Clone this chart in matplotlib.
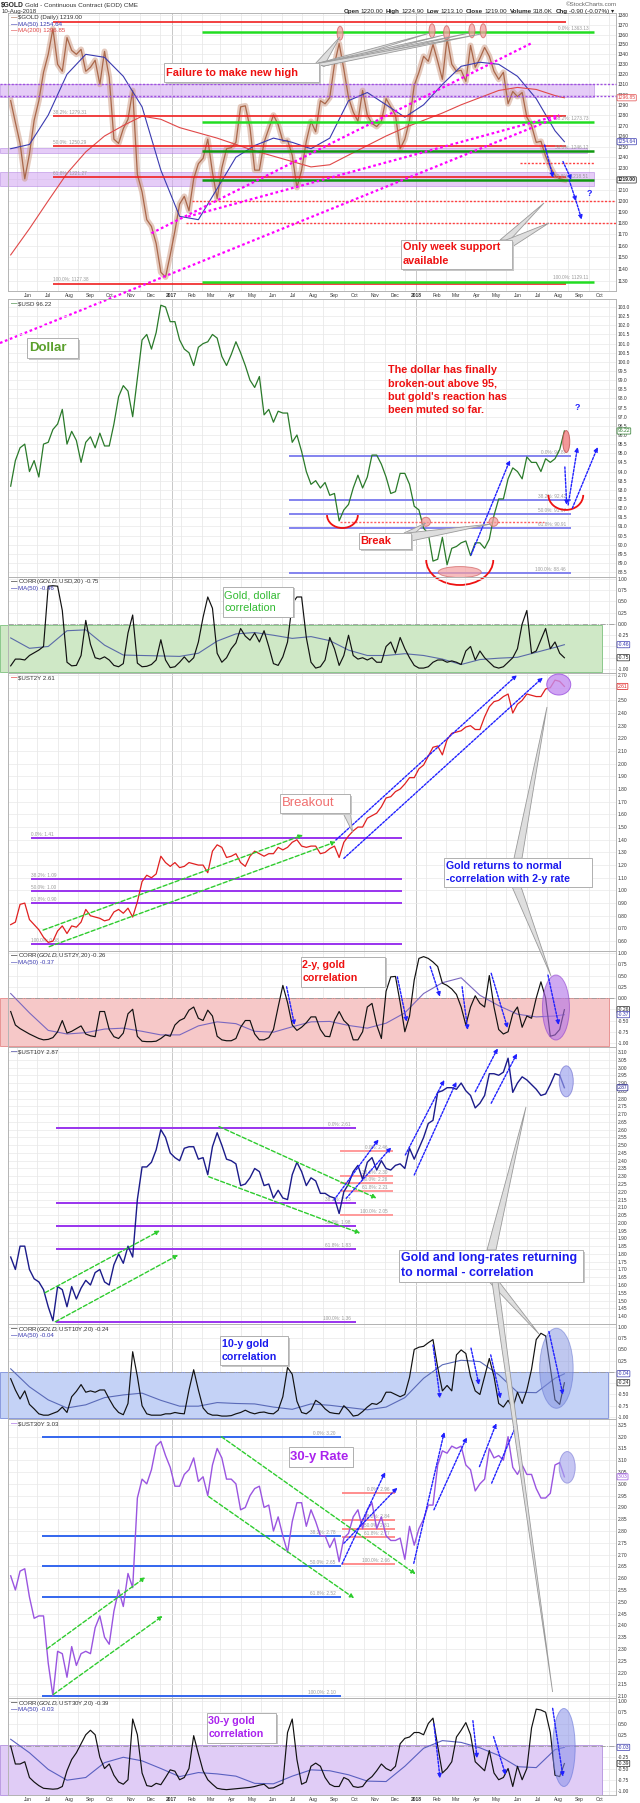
import numpy as np
import pandas as pd
import matplotlib
matplotlib.use('Agg')
import matplotlib.pyplot as plt
import matplotlib.dates as mdates
from matplotlib import transforms, font_manager
from matplotlib.patches import Rectangle, Ellipse, Arc, Polygon, FancyArrowPatch
from matplotlib.ticker import FixedLocator, FuncFormatter, NullLocator

names = {f.name for f in font_manager.fontManager.ttflist}
BASE = 'Liberation Sans' if 'Liberation Sans' in names else 'DejaVu Sans'
NARROW = 'Liberation Sans Narrow' if 'Liberation Sans Narrow' in names else BASE
plt.rcParams['font.family'] = [BASE, 'DejaVu Sans']

# ---------------- data: weekly values, Fri 6-May-2016 .. Fri 10-Aug-2018 ----------------
first_week = '2016-05-06'

gold = [1294, 1273, 1253, 1220, 1243, 1275, 1294, 1322, 1340, 1366,
        1330, 1323, 1357, 1344, 1340, 1345, 1323, 1327, 1334, 1310,
        1343, 1317, 1257, 1253, 1267, 1276, 1304, 1224, 1208, 1183,
        1177, 1162, 1137, 1133, 1152, 1173, 1197, 1204, 1191, 1220,
        1234, 1239, 1257, 1226, 1202, 1230, 1248, 1249, 1254, 1288,
        1289, 1268, 1228, 1228, 1254, 1267, 1280, 1271, 1255, 1256,
        1242, 1212, 1228, 1255, 1274, 1264, 1294, 1291, 1297, 1330,
        1351, 1325, 1297, 1283, 1274, 1304, 1280, 1272, 1269, 1274,
        1296, 1288, 1280, 1248, 1257, 1275, 1309, 1322, 1338, 1333,
        1350, 1333, 1315, 1356, 1330, 1323, 1324, 1313, 1349, 1327,
        1336, 1347, 1338, 1323, 1315, 1322, 1291, 1303, 1298, 1302,
        1278, 1270, 1254, 1255, 1241, 1231, 1223, 1220, 1219]

usd = [93.2, 94.6, 95.3, 95.5, 94.0, 94.6, 93.7, 95.5, 95.6, 96.3,
       96.6, 97.4, 95.5, 96.2, 95.7, 94.5, 95.6, 95.9, 95.3, 96.1,
       95.4, 95.4, 96.6, 98.1, 98.7, 98.4, 97.0, 99.1, 101.2, 101.5,
       100.7, 101.6, 103.1, 103.0, 102.2, 102.2, 101.2, 100.7, 100.5, 99.8,
       100.8, 101.0, 101.1, 101.5, 101.3, 100.3, 99.8, 100.4, 101.1, 100.5,
       99.8, 99.0, 98.6, 99.2, 97.1, 97.4, 96.7, 97.3, 97.2, 97.2,
       95.6, 96.0, 95.1, 94.0, 93.3, 93.5, 93.1, 93.4, 92.7, 92.8,
       91.3, 91.9, 92.2, 93.1, 93.8, 93.1, 93.7, 94.9, 94.9, 94.4,
       93.7, 92.8, 92.9, 93.9, 93.9, 93.3, 92.1, 91.9, 90.9, 90.6,
       89.1, 89.2, 90.4, 88.9, 89.8, 89.9, 90.1, 90.2, 89.4, 90.1,
       90.1, 89.8, 90.3, 91.6, 92.5, 92.5, 93.6, 94.2, 94.0, 93.6,
       94.8, 94.5, 94.5, 94.0, 94.7, 94.5, 94.7, 95.2, 96.22]

ust2y = [0.73, 0.75, 0.89, 0.90, 0.77, 0.73, 0.69, 0.63, 0.59, 0.60,
         0.68, 0.72, 0.66, 0.72, 0.71, 0.75, 0.85, 0.80, 0.79, 0.78,
         0.76, 0.77, 0.83, 0.85, 0.82, 0.86, 0.79, 0.91, 1.07, 1.12,
         1.10, 1.13, 1.27, 1.22, 1.19, 1.22, 1.18, 1.19, 1.22, 1.21,
         1.20, 1.20, 1.14, 1.31, 1.36, 1.34, 1.26, 1.27, 1.29, 1.22,
         1.19, 1.27, 1.31, 1.29, 1.27, 1.29, 1.29, 1.34, 1.32, 1.34,
         1.38, 1.40, 1.35, 1.34, 1.35, 1.35, 1.29, 1.30, 1.33, 1.35,
         1.26, 1.38, 1.43, 1.47, 1.50, 1.50, 1.57, 1.59, 1.61, 1.66,
         1.73, 1.74, 1.78, 1.80, 1.84, 1.89, 1.89, 1.96, 1.99, 2.06,
         2.13, 2.14, 2.07, 2.19, 2.24, 2.25, 2.26, 2.29, 2.30, 2.27,
         2.27, 2.37, 2.45, 2.49, 2.50, 2.53, 2.55, 2.40, 2.47, 2.50,
         2.55, 2.54, 2.53, 2.53, 2.59, 2.60, 2.66, 2.65, 2.61]

ust10y = [1.78, 1.70, 1.85, 1.85, 1.70, 1.64, 1.62, 1.57, 1.46, 1.37,
          1.59, 1.57, 1.46, 1.59, 1.51, 1.58, 1.63, 1.60, 1.68, 1.70,
          1.62, 1.60, 1.73, 1.80, 1.74, 1.85, 1.78, 2.15, 2.36, 2.36,
          2.39, 2.47, 2.60, 2.55, 2.45, 2.42, 2.40, 2.48, 2.49, 2.49,
          2.41, 2.42, 2.31, 2.49, 2.58, 2.50, 2.41, 2.40, 2.38, 2.24,
          2.25, 2.29, 2.35, 2.33, 2.24, 2.25, 2.16, 2.21, 2.16, 2.15,
          2.31, 2.39, 2.33, 2.24, 2.29, 2.27, 2.19, 2.19, 2.17, 2.16,
          2.06, 2.20, 2.25, 2.33, 2.37, 2.28, 2.39, 2.42, 2.34, 2.40,
          2.35, 2.34, 2.37, 2.38, 2.35, 2.48, 2.41, 2.48, 2.55, 2.64,
          2.66, 2.84, 2.85, 2.87, 2.87, 2.86, 2.90, 2.85, 2.82, 2.74,
          2.77, 2.82, 2.96, 2.96, 2.95, 2.97, 3.06, 2.84, 2.90, 2.94,
          2.92, 2.89, 2.86, 2.82, 2.83, 2.89, 2.96, 2.95, 2.87]

ust30y = [2.61, 2.55, 2.63, 2.64, 2.52, 2.43, 2.44, 2.44, 2.24, 2.10,
          2.29, 2.28, 2.18, 2.31, 2.23, 2.28, 2.29, 2.28, 2.39, 2.44,
          2.35, 2.32, 2.46, 2.55, 2.48, 2.62, 2.56, 2.94, 3.02, 3.00,
          3.06, 3.16, 3.18, 3.12, 3.07, 2.99, 2.99, 3.04, 3.06, 3.11,
          3.01, 3.03, 2.95, 3.08, 3.15, 3.11, 3.02, 3.02, 3.00, 2.89,
          2.90, 2.95, 2.98, 2.99, 2.90, 2.91, 2.80, 2.86, 2.78, 2.71,
          2.84, 2.92, 2.92, 2.82, 2.89, 2.84, 2.78, 2.78, 2.73, 2.77,
          2.67, 2.77, 2.79, 2.86, 2.89, 2.81, 2.89, 2.92, 2.81, 2.86,
          2.78, 2.76, 2.76, 2.77, 2.68, 2.82, 2.74, 2.81, 2.85, 2.91,
          2.91, 3.08, 3.14, 3.13, 3.16, 3.15, 3.16, 3.08, 3.06, 2.97,
          3.00, 3.02, 3.15, 3.11, 3.12, 3.10, 3.20, 3.07, 3.04, 3.08,
          3.04, 3.04, 2.98, 2.94, 2.94, 2.96, 3.08, 3.09, 3.03]

corr_usd = [-0.93, -0.78, -0.78, -0.80, -0.70, -0.64, -0.58, -0.50, 0.84, 0.85,
            0.84, 0.30, -0.85, -0.93, -0.92, -0.70, 0.08, -0.45, -0.75, -0.78,
            -0.73, -0.80, -0.92, -0.95, -0.88, -0.20, 0.20, -0.87, -0.95, -0.94,
            -0.90, -0.80, -0.35, -0.80, -0.97, -0.95, -0.85, -0.73, -0.85, -0.75,
            -0.40, 0.15, 0.60, 0.35, -0.65, -0.85, -0.75, -0.55, -0.42, -0.10,
            -0.27, -0.36, -0.20, -0.40, -0.15, -0.50, -0.88, -0.92, -0.73, -0.40,
            0.45, 0.60, 0.60, -0.30, -0.85, -0.98, -0.95, -0.80, -0.30, -0.55,
            -0.92, -0.70, -0.25, -0.70, -0.78, -0.75, -0.80, -0.75, -0.85, -0.85,
            -0.50, -0.40, -0.65, -0.30, -0.55, -0.75, -0.92, -0.98, -0.98, -0.95,
            -0.85, -0.80, -0.80, -0.85, -0.82, -0.85, -0.90, -0.60, -0.50, -0.80,
            -0.60, -0.75, -0.85, -0.95, -0.98, -0.95, -0.85, -0.75, -0.55, 0.00,
            0.30, -0.65, -0.60, -0.35, -0.10, -0.55, -0.40, -0.65, -0.75]

corr_2y = [-0.30, -0.60, -0.68, -0.74, -0.80, -0.85, -0.90, -0.93, -0.92, -0.88,
           -0.75, -0.50, -0.78, -0.74, -0.68, -0.62, -0.80, -0.84, -0.86, -0.30,
           -0.30, -0.70, -0.86, -0.90, -0.78, -0.35, -0.25, -0.85, -0.96, -0.97,
           -0.97, -0.96, -0.90, -0.82, -0.85, -0.60, -0.50, -0.45, -0.27, -0.20,
           -0.45, -0.50, -0.27, -0.40, -0.85, -0.93, -0.95, -0.95, -0.90, -0.65,
           -0.50, -0.50, -0.80, -0.93, -0.93, -0.88, -0.70, -0.20, 0.28, -0.10,
           -0.60, -0.72, -0.65, -0.55, -0.42, -0.42, -0.70, -0.85, -0.86, -0.50,
           -0.30, -0.50, -0.60, -0.93, -0.93, -0.75, -0.20, -0.12, -0.60, -0.90,
           0.15, 0.47, 0.48, -0.10, -0.75, -0.40, 0.40, 0.88, 0.92, 0.88,
           0.80, 0.70, 0.33, 0.28, 0.20, 0.08, -0.20, -0.60, -0.20, 0.05,
           -0.12, -0.20, 0.50, -0.20, -0.70, -0.80, -0.75, -0.35, -0.20, -0.65,
           -0.40, -0.45, 0.00, 0.36, 0.00, -0.85, -0.82, -0.70, -0.26]

corr_10y = [-0.15, -0.40, -0.60, -0.42, -0.72, -0.82, -0.93, -0.96, -0.96, -0.92,
            -0.88, -0.78, -0.90, -0.55, -0.43, -0.28, -0.45, -0.42, -0.45, -0.40,
            -0.40, -0.60, -0.78, -0.90, -0.95, -0.70, 0.45, -0.10, -0.75, -0.93,
            -0.96, -0.96, -0.96, -0.93, -0.93, -0.90, -0.92, -0.93, -0.40, 0.05,
            -0.40, -0.80, -0.92, -0.96, -0.96, -0.98, -0.98, -0.97, -0.93, -0.90,
            -0.85, -0.90, -0.93, -0.90, -0.89, -0.92, -0.93, -0.85, -0.55, 0.10,
            -0.05, -0.65, -0.90, -0.93, -0.85, -0.63, -0.70, -0.82, -0.90, -0.92,
            -0.93, -0.75, -0.85, -0.98, -0.96, -0.88, -0.78, -0.70, -0.72, -0.65,
            -0.45, -0.45, -0.50, -0.55, -0.50, -0.12, 0.50, 0.55, 0.57, 0.65,
            0.72, 0.10, -0.42, -0.30, -0.42, 0.38, 0.49, 0.41, -0.10, -0.42,
            -0.50, -0.10, 0.30, -0.10, -0.70, -0.78, -0.63, -0.80, -0.45, -0.70,
            -0.40, 0.06, 0.72, 0.86, 0.80, 0.10, -0.62, -0.72, -0.24]

corr_30y = [0.00, -0.40, -0.40, -0.35, -0.70, -0.80, -0.88, -0.94, -0.95, -0.96,
            -0.95, -0.90, -0.55, -0.30, -0.15, 0.05, 0.25, 0.35, 0.25, -0.25,
            -0.50, -0.40, -0.65, -0.80, -0.85, -0.75, 0.60, 0.25, -0.60, -0.88,
            -0.90, -0.83, -0.86, -0.70, -0.53, -0.56, -0.75, -0.70, -0.50, 0.23,
            -0.17, -0.55, -0.75, -0.85, -0.94, -0.96, -0.97, -0.96, -0.95, -0.94,
            -0.93, -0.92, -0.90, -0.87, -0.85, -0.94, -0.93, -0.88, -0.83, 0.30,
            0.60, -0.30, -0.85, -0.80, -0.45, -0.38, -0.45, -0.70, -0.85, -0.90,
            -0.90, -0.70, -0.75, -0.90, -0.92, -0.90, -0.76, -0.68, -0.55, -0.40,
            -0.50, -0.55, -0.45, 0.05, 0.17, 0.20, 0.30, 0.30, 0.25, 0.50,
            0.62, 0.00, -0.60, -0.50, -0.35, 0.20, 0.35, 0.52, 0.25, -0.35,
            -0.45, -0.55, -0.10, -0.60, -0.75, -0.70, -0.50, -0.90, -0.45, -0.75,
            -0.50, 0.40, 0.82, 0.80, 0.75, 0.30, -0.65, -0.68, -0.39]

# moving averages, sampled every 4th week (plus the last week)
ma_idx = list(range(0, 117, 4)) + [118]
gold_ma50 = [1248, 1252, 1280, 1320, 1340, 1337, 1318, 1288, 1228, 1186, 1183, 1211, 1240, 1251, 1258,
             1254, 1248, 1258, 1294, 1302, 1290, 1278, 1290, 1310, 1328, 1332, 1330, 1318, 1296, 1265, 1254.64]
gold_ma200 = [1152, 1175, 1200, 1225, 1245, 1260, 1270, 1279, 1276, 1268, 1263, 1258, 1252, 1246, 1241,
              1236, 1231, 1233, 1242, 1251, 1260, 1268, 1275, 1282, 1290, 1297, 1304, 1307, 1305, 1299, 1296.85]
corr_usd_ma = [-0.31, -0.54, -0.50, -0.15, -0.13, -0.47, -0.69, -0.70, -0.71, -0.72, -0.65, -0.38, -0.22, -0.19, -0.25,
               -0.32, -0.28, -0.37, -0.58, -0.70, -0.70, -0.66, -0.70, -0.78, -0.90, -0.79, -0.76, -0.74, -0.63, -0.52, -0.46]
corr_2y_ma = [0.10, -0.33, -0.72, -0.80, -0.77, -0.69, -0.67, -0.74, -0.82, -0.82, -0.62, -0.53, -0.57, -0.74, -0.76,
              -0.64, -0.53, -0.52, -0.61, -0.67, -0.56, -0.33, 0.10, 0.34, 0.45, 0.06, -0.17, -0.36, -0.42, -0.40, -0.37]
corr_10y_ma = [0.07, -0.33, -0.62, -0.80, -0.73, -0.57, -0.51, -0.47, -0.63, -0.76, -0.76, -0.68, -0.70, -0.71, -0.78,
               -0.83, -0.71, -0.74, -0.79, -0.84, -0.78, -0.57, -0.14, 0.16, 0.26, 0.23, -0.06, -0.45, -0.46, -0.14, -0.04]
corr_30y_ma = [0.15, -0.15, -0.52, -0.76, -0.70, -0.37, -0.25, -0.33, -0.50, -0.68, -0.59, -0.62, -0.67, -0.83, -0.84,
               -0.67, -0.53, -0.55, -0.64, -0.78, -0.79, -0.45, -0.05, 0.12, 0.08, -0.04, -0.21, -0.46, -0.48, -0.08, -0.03]

# fibonacci levels
gold_fib_red = [1373.18, 1279.31, 1250.29, 1221.27, 1127.38]
gold_fib_red_lab = ['', '38.2%: 1279.31', '50.0%: 1250.29', '61.8%: 1221.27', '100.0%: 1127.38']
gold_fib_green = [1363.13, 1273.73, 1246.12, 1218.51, 1129.11]
gold_fib_green_lab = ['0.0%: 1363.13', '38.2%: 1273.73', '50.0%: 1246.12', '61.8%: 1218.51', '100.0%: 1129.11']
usd_fib = [94.87, 92.42, 91.67, 90.91, 88.46]
usd_fib_lab = ['0.0%: 94.87', '38.2%: 92.42', '50.0%: 91.67', '61.8%: 90.91', '100.0%: 88.46']
y2_fib = [1.41, 1.093, 0.995, 0.897, 0.58]
y2_fib_lab = ['0.0%: 1.41', '38.2%: 1.09', '50.0%: 1.00', '61.8%: 0.90', '100.0%: 0.58']
y10_fib = [2.61, 2.13, 1.98, 1.83, 1.36]
y10_fib_lab = ['0.0%: 2.61', '38.2%: 2.13', '50.0%: 1.98', '61.8%: 1.83', '100.0%: 1.36']
y10_fib2 = [2.46, 2.303, 2.255, 2.207, 2.05]
y10_fib2_lab = ['0.0%: 2.46', '38.2%: 2.30', '50.0%: 2.26', '61.8%: 2.21', '100.0%: 2.05']
y30_fib = [3.20, 2.78, 2.65, 2.52, 2.10]
y30_fib_lab = ['0.0%: 3.20', '38.2%: 2.78', '50.0%: 2.65', '61.8%: 2.52', '100.0%: 2.10']
y30_fib2 = [2.96, 2.845, 2.81, 2.775, 2.66]
y30_fib2_lab = ['0.0%: 2.96', '38.2%: 2.84', '50.0%: 2.81', '61.8%: 2.77', '100.0%: 2.66']

# ---------------- figure ----------------
W, H = 640, 1803
fig = plt.figure(figsize=(W / 100, H / 100), dpi=100)
fig.patch.set_facecolor('white')
renderer = fig.canvas.get_renderer()

t0 = mdates.datestr2num(first_week)
xw = t0 + 7 * np.arange(len(gold))
xm = xw[ma_idx]


def wk(i):
    return t0 + 7 * i


XL = (mdates.datestr2num('2016-05-02'), mdates.datestr2num('2018-10-26'))
months = pd.date_range('2016-06-01', '2018-10-01', freq='MS')
mon_x = mdates.date2num(months.to_pydatetime())
mon_lab = [str(m.year) if m.month == 1 else m.strftime('%b') for m in months]
mid_x = mdates.date2num((pd.date_range('2016-05-01', '2018-10-01', freq='MS')
                         + pd.Timedelta(days=14)).to_pydatetime())
year_x = [mdates.datestr2num('2017-01-01'), mdates.datestr2num('2018-01-01')]
corr_ticks = np.arange(-1, 1.01, 0.25)


def panel(top, bot, ylim, ticks, fmt, xlabels=False, log=False):
    ax = fig.add_axes([8 / W, 1 - bot / H, 608 / W, (bot - top) / H])
    ax.set_facecolor('none')
    if log:
        ax.set_yscale('log')
    ax.set_xlim(*XL)
    ax.set_ylim(*ylim)
    ax.yaxis.set_major_locator(FixedLocator(ticks))
    ax.yaxis.set_major_formatter(FuncFormatter(lambda v, p: fmt % v))
    ax.yaxis.set_minor_locator(NullLocator())
    ax.yaxis.tick_right()
    ax.set_xticks(mon_x)
    ax.set_xticks(mid_x, minor=True)
    ax.set_xticklabels(mon_lab)
    ax.tick_params(axis='both', which='both', length=0, labelsize=3.5, colors='#333333', pad=1.5)
    ax.tick_params(axis='x', labelbottom=xlabels)
    if xlabels:
        for t, s in zip(ax.get_xticklabels(), mon_lab):
            if s.isdigit():
                t.set_fontweight('bold')
    ax.set_axisbelow(True)
    ax.grid(True, which='minor', axis='x', color='#e4e4e4', lw=0.5)
    ax.grid(True, which='major', axis='y', color='#e9e9e9', lw=0.5)
    for yx in year_x:
        ax.axvline(yx, color='#c8c8c8', lw=0.7, zorder=0.5)
    for s in ax.spines.values():
        s.set_color('#b4b4b4')
        s.set_linewidth(0.7)
    return ax


def head(ax, items):
    for k, (s, c, tc) in enumerate(items):
        y = -(5 + 6.3 * k) * 0.72
        ax.annotate('—', xy=(0, 1), xycoords='axes fraction', xytext=(2, y), textcoords='offset points',
                    va='center', ha='left', fontsize=4.6, color=c, fontweight='bold')
        ax.annotate(s, xy=(0, 1), xycoords='axes fraction', xytext=(7.5, y), textcoords='offset points',
                    va='center', ha='left', fontsize=4.4, color=tc)


def tag(ax, v, s, ec, bold=False):
    ax.annotate(s, xy=(1, v), xycoords=('axes fraction', 'data'), xytext=(1.2, 0), textcoords='offset points',
                ha='left', va='center', fontsize=3.6, color=ec, fontweight='bold' if bold else 'normal',
                bbox=dict(boxstyle='round,pad=0.12', fc='white', ec=ec, lw=0.5), annotation_clip=False, zorder=8)


def fib(ax, i0, i1, levels, labels, color, lw=1.3, side='right', colors=None):
    for k, (lv, lb) in enumerate(zip(levels, labels)):
        c = colors[k] if colors else color
        ax.plot([wk(i0), wk(i1)], [lv, lv], color=c, lw=lw, zorder=3, solid_capstyle='butt')
        if lb:
            xx = wk(i1) if side == 'right' else wk(i0)
            dx = -4 if side == 'right' else 0
            ax.annotate(lb, (xx, lv), xytext=(dx, 0.8), textcoords='offset points', ha=side, va='bottom',
                        fontsize=3.4, color='#9a9a9a', zorder=3)


def arrow(ax, a, color='#2020ff', ls=(0, (1.6, 1.1)), lw=1.0):
    i0, v0, i1, v1 = a
    ax.add_patch(FancyArrowPatch((wk(i0), v0), (wk(i1), v1), arrowstyle='-|>', mutation_scale=6,
                                 color=color, lw=lw, ls=ls, shrinkA=0, shrinkB=0, clip_on=False, zorder=7))


def blob(ax, i, v, wpx, hpx, fc, ec, alpha=0.6):
    tr = fig.dpi_scale_trans + transforms.ScaledTranslation(wk(i), v, ax.transData)
    ax.add_patch(Ellipse((0, 0), wpx / 100, hpx / 100, transform=tr, fc=fc, ec=ec, lw=0.7,
                         alpha=alpha, clip_on=False, zorder=6))


def corr_panel(ax, vals, ma, i_right, top, bot, fc, ec, ma_color):
    ax.add_patch(Rectangle((wk(-2.3), bot), wk(i_right) - wk(-2.3), top - bot, fc=fc, ec=ec, lw=0.7,
                           clip_on=False, zorder=0.8))
    ax.axhline(0, color='#9a9a9a', lw=0.6, ls='-.', zorder=1)
    ax.plot(xm, ma, color=ma_color, lw=0.8, zorder=2)
    ax.plot(xw, vals, color='#111111', lw=0.85, zorder=2.2)


BLUE = '#2020ff'
GREEN = '#2ecc2e'
GLS = (0, (3, 1.6))

# ---- gold ----
ax_g = panel(13, 291, (1121.1, 1382.4), np.arange(1130, 1381, 10), '%.0f', True, log=True)
for lo, hi, right in [(1298, 1310, 124.3), (1244, 1249, 122.9), (1213, 1226, 124.3)]:
    ax_g.add_patch(Rectangle((wk(-2.3), lo), wk(right) - wk(-2.3), hi - lo, fc='#d4aaf2', ec='#b07ee0',
                             lw=0.6, alpha=0.6, clip_on=False, zorder=1))
for lv in (1310, 1299):
    ax_g.plot([wk(-2.3), wk(129.1)], [lv, lv], color='#a050e0', lw=1.0, ls=(0, (1.5, 1.2)), zorder=3, clip_on=False)
ax_g.plot(xw, gold, color='#d0a08a', lw=4.2, alpha=0.55, zorder=2)
ax_g.plot(xw, gold, color='#a9674a', lw=0.9, zorder=2.1)
ax_g.plot(xm, gold_ma50, color='#3a3ab0', lw=0.8, zorder=2.3)
ax_g.plot(xm, gold_ma200, color='#e04848', lw=0.8, zorder=2.3)
fib(ax_g, 9.1, 118.3, gold_fib_red, gold_fib_red_lab, '#f02020', lw=1.2, side='left')
fib(ax_g, 40.7, 124.3, gold_fib_green, gold_fib_green_lab, '#22dd22', lw=1.8,
    colors=['#22dd22', '#22dd22', '#119911', '#119911', '#22dd22'])
ax_g.plot([wk(108.5), wk(124.3)], [1235, 1235], color='#ff4040', lw=1.0, ls=(0, (1.5, 1.2)), zorder=3)
ax_g.plot([wk(38.7), wk(129.1)], [1200, 1200], color='#ff4040', lw=1.0, ls=(0, (1.5, 1.2)), zorder=3)
ax_g.plot([wk(37.4), wk(129.1)], [1180, 1180], color='#ff4040', lw=1.0, ls=(0, (1.5, 1.2)), zorder=3)
for a in [(30.0, 1171, 111.2, 1351.8), (37.8, 1185.8, 116.9, 1280), (-2.28, 1078, 116.9, 1278.5)]:
    ax_g.plot([wk(a[0]), wk(a[2])], [a[1], a[3]], color='#ff00ff', lw=1.6, ls=(0, (1.2, 1.2)),
              zorder=4, clip_on=False)
for i, v in [(70.2, 1361.5), (89.8, 1364), (92.9, 1362), (98.3, 1364), (100.7, 1364)]:
    blob(ax_g, i, v, 6, 14, '#f4a0a0', '#d06060', 0.75)
for a in [(113.8, 1251.5, 115.6, 1221), (117.7, 1236, 119.5, 1219),
          (119.0, 1219, 120.5, 1199.6), (120.5, 1199.6, 121.7, 1183)]:
    arrow(ax_g, a)
ax_g.text(wk(123.4), 1207, '?', color=BLUE, fontsize=6.5, fontweight='bold', ha='center', va='center')
head(ax_g, [('$GOLD (Daily) 1219.00', '#a9674a', '#333333'),
            ('MA(50) 1254.64', '#3a3ab0', '#3a3ab0'),
            ('MA(200) 1296.85', '#e04848', '#e04848')])
tag(ax_g, 1296.85, '1296.85', '#e04848')
tag(ax_g, 1254.64, '1254.64', '#3a3ab0')
tag(ax_g, 1219.00, '1219.00', '#222222', bold=True)

# ---- dollar ----
ax_u = panel(299, 577, (88.23, 103.44), np.arange(88.5, 103.01, 0.5), '%.1f')
fib(ax_u, 59.3, 119.5, usd_fib, usd_fib_lab, '#7a7aee', lw=1.3)
ax_u.plot([wk(70.2), wk(113.7)], [91.25, 91.25], color='#ff6060', lw=1.0, ls=(0, (1.5, 1.2)), zorder=3)
ax_u.plot(xw, usd, color='#2a7a2a', lw=0.9, zorder=4)
for c, wd, ht in [((70.7, 91.62), 46, 1.42), ((95.7, 89.16), 100, 2.735), ((118.3, 92.72), 52, 1.64)]:
    ax_u.add_patch(Arc((wk(c[0]), c[1]), wd, ht, theta1=180, theta2=360, color='#ee1111', lw=1.3,
                       clip_on=False, zorder=5))
blob(ax_u, 88.5, 91.25, 9, 9, '#f4a0a0', '#d06060', 0.75)
blob(ax_u, 102.9, 91.25, 9, 9, '#f4a0a0', '#d06060', 0.75)
blob(ax_u, 95.7, 88.5, 43, 11, '#f4a0a0', '#d06060', 0.7)
blob(ax_u, 118.4, 95.64, 7, 22, '#f08080', '#c05050', 0.8)
for a in [(98.1, 89.43, 106.4, 94.63), (118.1, 94.25, 118.5, 92.17),
          (118.8, 92.17, 120.8, 95.34), (119.7, 92.0, 125.1, 95.34)]:
    arrow(ax_u, a)
ax_u.text(wk(120.8), 97.5, '?', color=BLUE, fontsize=6.5, fontweight='bold', ha='center', va='center')
head(ax_u, [('$USD 96.22', '#2a7a2a', '#333333')])
tag(ax_u, 96.22, '96.22', '#2a7a2a')

# ---- corr gold / dollar ----
ax_c1 = panel(577, 673, (-1.089, 1.044), corr_ticks, '%.2f')
corr_panel(ax_c1, corr_usd, corr_usd_ma, 126.1, -0.02, -1.06, '#cfe8c6', '#8cc88c', '#5a6aa8')
head(ax_c1, [('CORR($GOLD,$USD,20) -0.75', '#111111', '#333333'), ('MA(50) -0.46', '#3a3ab0', '#3a3ab0')])
tag(ax_c1, -0.46, '-0.46', '#3a3ab0')
tag(ax_c1, -0.75, '-0.75', '#222222')

# ---- 2-year ----
ax_2 = panel(673, 951, (0.522, 2.716), np.arange(0.6, 2.701, 0.1), '%.2f')
fib(ax_2, 4.3, 83.4, y2_fib, y2_fib_lab, '#9933ee', lw=1.4, side='left')
ax_2.plot(xw, ust2y, color='#e02020', lw=0.9, zorder=4)
for a in [(6.9, 0.687, 62.3, 1.437), (8.2, 0.556, 69.3, 1.384)]:
    arrow(ax_2, a, GREEN, GLS)
for a in [(69.3, 1.398, 107.9, 2.70), (71.0, 1.253, 113.4, 2.68)]:
    arrow(ax_2, a)
blob(ax_2, 116.8, 2.625, 24, 21, '#c48df0', '#9b4fe0', 0.8)
head(ax_2, [('$UST2Y 2.61', '#e02020', '#333333')])
tag(ax_2, 2.61, '2.61', '#e02020')

# ---- corr gold / 2y ----
ax_c2 = panel(951, 1047, (-1.089, 1.045), corr_ticks, '%.2f')
corr_panel(ax_c2, corr_2y, corr_2y_ma, 127.6, 0.0, -1.07, '#f6c8c8', '#e89494', '#7a68c0')
for a in [(58.8, 0.25, 60.5, -0.60), (82.4, 0.47, 84.4, -0.53), (89.4, 0.70, 91.5, 0.03),
          (96.2, 0.25, 97.4, -0.71), (102.4, 0.55, 105.9, -0.67), (114.5, 0.51, 116.8, -0.60)]:
    arrow(ax_c2, a)
blob(ax_c2, 116.2, -0.211, 27, 65, '#b070e8', '#9040d0', 0.6)
head(ax_c2, [('CORR($GOLD,$UST2Y,20) -0.26', '#111111', '#333333'), ('MA(50) -0.37', '#3a3ab0', '#3a3ab0')])
tag(ax_c2, -0.26, '-0.26', '#222222')
tag(ax_c2, -0.37, '-0.37', '#3a3ab0')

# ---- 10-year ----
ax_10 = panel(1047, 1324, (1.349, 3.132), np.arange(1.40, 3.101, 0.05), '%.2f')
fib(ax_10, 9.7, 73.6, y10_fib, y10_fib_lab, '#9933ee', lw=1.4)
fib(ax_10, 70.2, 81.5, y10_fib2, y10_fib2_lab, '#ff9a9a', lw=1.4)
ax_10.plot(xw, ust10y, color='#1b1b8a', lw=1.0, zorder=4)
for a in [(44.4, 2.62, 78.0, 2.158), (42.2, 2.297, 74.5, 1.933), (7.3, 1.55, 31.8, 1.95), (9.5, 1.363, 35.7, 1.793)]:
    arrow(ax_10, a, GREEN, GLS)
for a in [(68.9, 2.147, 78.4, 2.538), (71.5, 2.158, 81.1, 2.486), (84.1, 2.437, 92.4, 2.92),
          (86.0, 2.308, 95.0, 2.909), (99.0, 2.844, 103.8, 3.124), (102.4, 2.77, 107.9, 3.09)]:
    arrow(ax_10, a)
blob(ax_10, 118.4, 2.911, 14, 31, '#9aa0ee', '#7070d0', 0.65)
head(ax_10, [('$UST10Y 2.87', '#1b1b8a', '#333333')])
tag(ax_10, 2.87, '2.87', '#1b1b8a')

# ---- corr gold / 10y ----
ax_c3 = panel(1324, 1419, (-1.045, 1.066), corr_ticks, '%.2f')
corr_panel(ax_c3, corr_10y, corr_10y_ma, 127.4, 0.0, -1.03, '#c4d2f6', '#8a9ade', '#5a6ab8')
for a in [(90.0, 0.60, 91.5, -0.59), (98.1, 0.53, 99.8, -0.29), (102.3, 0.38, 104.4, -0.59),
          (114.7, 0.90, 117.7, -0.51)]:
    arrow(ax_c3, a)
blob(ax_c3, 116.3, 0.082, 33.5, 80, '#8090e0', '#6070d0', 0.5)
head(ax_c3, [('CORR($GOLD,$UST10Y,20) -0.24', '#111111', '#333333'), ('MA(50) -0.04', '#3a3ab0', '#3a3ab0')])
tag(ax_c3, -0.04, '-0.04', '#3a3ab0')
tag(ax_c3, -0.24, '-0.24', '#222222')

# ---- 30-year ----
ax_30 = panel(1419, 1698, (2.092, 3.275), np.arange(2.10, 3.251, 0.05), '%.2f')
fib(ax_30, 6.7, 70.4, y30_fib, y30_fib_lab, '#3366ee', lw=1.4)
fib(ax_30, 70.6, 81.9, y30_fib2, y30_fib2_lab, '#ff7a7a', lw=1.2)
ax_30.plot(xw, ust30y, color='#9a55e0', lw=1.0, zorder=4)
for a in [(44.9, 3.20, 86.3, 2.617), (42.2, 2.946, 73.2, 2.515), (7.7, 2.30, 28.7, 2.604), (9.1, 2.107, 32.4, 2.44)]:
    arrow(ax_30, a, GREEN, GLS)
for a in [(70.6, 2.66, 79.8, 3.05), (71.0, 2.748, 82.4, 2.984), (85.9, 2.663, 92.4, 3.22),
          (90.2, 2.89, 97.2, 3.198), (99.9, 3.073, 103.5, 3.257), (102.5, 3.003, 107.9, 3.257)]:
    arrow(ax_30, a)
blob(ax_30, 118.6, 3.07, 16, 31.6, '#a8a8ee', '#8080d8', 0.65)
head(ax_30, [('$UST30Y 3.03', '#9a55e0', '#333333')])
tag(ax_30, 3.03, '3.03', '#9a55e0')

# ---- corr gold / 30y ----
ax_c4 = panel(1698, 1795, (-1.089, 1.067), corr_ticks, '%.2f', xlabels=True)
corr_panel(ax_c4, corr_30y, corr_30y_ma, 126.1, 0.02, -1.085, '#e0ccf6', '#bb9ce2', '#5a60c0')
for a in [(90.2, 0.489, 91.5, -0.718), (98.5, 0.563, 99.4, -0.274), (102.9, 0.207, 105.5, -0.644),
          (115.5, 0.837, 117.7, -0.681)]:
    arrow(ax_c4, a)
blob(ax_c4, 117.9, -0.033, 22.5, 78, '#8890e8', '#6070d8', 0.55)
head(ax_c4, [('CORR($GOLD,$UST30Y,20) -0.39', '#111111', '#333333'), ('MA(50) -0.03', '#3a3ab0', '#3a3ab0')])
tag(ax_c4, -0.03, '-0.03', '#3a3ab0')
tag(ax_c4, -0.39, '-0.39', '#222222')

# ---------------- overlay: header and call-outs (figure pixels) ----------------
ov = fig.add_axes([0, 0, 1, 1], zorder=20)
ov.set_xlim(0, W)
ov.set_ylim(H, 0)
ov.axis('off')


def wedge(b0, b1, tip):
    ov.add_patch(Polygon([b0, b1, tip], closed=True, fc='#dedede', ec='#9a9a9a', lw=0.6, zorder=1))


def box(x0, y0, x1, y1):
    ov.add_patch(Rectangle((x0 + 1.5, y0 + 1.5), x1 - x0, y1 - y0, fc='#c6c6c6', ec='none', zorder=2))
    ov.add_patch(Rectangle((x0, y0), x1 - x0, y1 - y0, fc='white', ec='#b0b0b0', lw=0.7, zorder=3))


def words(x, ys, lines, width, color, weight='bold'):
    ts = [ov.text(x, y, s, ha='left', va='center', fontsize=8, color=color, fontweight=weight,
                  family=[NARROW, 'DejaVu Sans'], zorder=4) for y, s in zip(ys, lines)]
    w = max(t.get_window_extent(renderer).width for t in ts)
    for t in ts:
        t.set_fontsize(8 * width / w)


RED = '#ee1111'
TBLUE = '#1a1aee'
PURP = '#aa22ee'

for tip in [(339.8, 37), (430, 33), (444, 35), (469.5, 33), (481, 34)]:
    wedge((315, 64), (324, 66), tip)
box(164, 63, 319, 82)
words(166.5, [73], ['Failure to make new high'], 133, RED)

wedge((500, 240), (510, 240), (544, 203))
wedge((506, 240), (512, 247), (549, 223))
box(401, 240, 512, 269)
words(403, [247.5, 261.5], ['Only week support', 'available'], 98, RED)

box(27, 338, 78, 358)
words(29.5, [348.3], ['Dollar'], 38, '#5aa02c')
words(387.6, [370, 383.3, 397, 410.3], ['The dollar has finally', 'broken-out above 95,',
                                        "but gold's reaction has", 'been muted so far.'], 119, RED)

wedge((404, 533), (411, 537), (425.7, 523))
wedge((407, 533), (411, 541), (491, 524))
box(359, 533, 411, 549)
words(360.5, [541], ['Break'], 31, RED)

box(223, 586.7, 293, 616.7)
words(224.5, [595, 608.3], ['Gold, dollar', 'correlation'], 57, '#33bb33', 'normal')

wedge((343, 813), (350, 808), (352.5, 832))
box(280, 794, 350, 813)
words(281.5, [803.3], ['Breakout'], 53, '#f07070', 'normal')

wedge((514, 858.3), (522, 858.3), (547, 707))
wedge((512, 886.7), (521, 886.7), (551, 976))
box(444, 858.3, 591.5, 886.7)
words(445.5, [866, 879.3], ['Gold returns to normal', '-correlation with 2-y rate'], 125, TBLUE)

box(301, 956.7, 385, 986.7)
words(302.5, [965, 977.7], ['2-y, gold', 'correlation'], 55, RED)

wedge((487, 1250), (496, 1250), (526, 1107))
wedge((489, 1281.7), (499, 1281.7), (539, 1334))
wedge((492, 1281.7), (498, 1281.7), (552.6, 1692))
box(399, 1250, 583, 1281.7)
words(401, [1258.3, 1272.7], ['Gold and long-rates returning', 'to normal - correlation'], 176, TBLUE)

box(220, 1336, 288, 1365)
words(221.5, [1344, 1357.3], ['10-y gold', 'correlation'], 55, TBLUE)

box(288.6, 1447.3, 352.8, 1466.7)
words(290, [1457.3], ['30-y Rate'], 58.5, PURP)

box(206.7, 1713.3, 276.3, 1742.7)
words(208.5, [1721, 1734.3], ['30-y gold', 'correlation'], 55, PURP)

# top header
t1 = ov.text(1, 5, '$GOLD', fontsize=4.8, fontweight='bold', va='center', ha='left', color='#222222')
w1 = t1.get_window_extent(renderer).width
ov.text(2.5 + w1, 5, 'Gold - Continuous Contract (EOD) CME', fontsize=4.6, va='center', ha='left', color='#333333')
ov.text(2, 11.5, '10-Aug-2018', fontsize=4.4, va='center', ha='left', color='#333333')
ov.text(617, 4.5, '©StockCharts.com', fontsize=4.4, va='center', ha='right', color='#666666')
pieces = [('Open', True), ('1220.00', False), ('High', True), ('1224.90', False), ('Low', True),
          ('1213.10', False), ('Close', True), ('1219.00', False), ('Volume', True), ('318.0K', False),
          ('Chg', True), ('-0.90 (-0.07%) ▾', False)]
objs = [ov.text(0, 11.5, s, fontsize=4.5, fontweight='bold' if b else 'normal', va='center', ha='left',
                color='#222222') for s, b in pieces]
widths = [o.get_window_extent(renderer).width for o in objs]
gaps = [1.2 if b else 2.8 for s, b in pieces]
x = 614 - (sum(widths) + sum(gaps[:-1]))
for o, wdt, g in zip(objs, widths, gaps):
    o.set_x(x)
    x += wdt + g

fig.savefig('out.png', dpi=100)
